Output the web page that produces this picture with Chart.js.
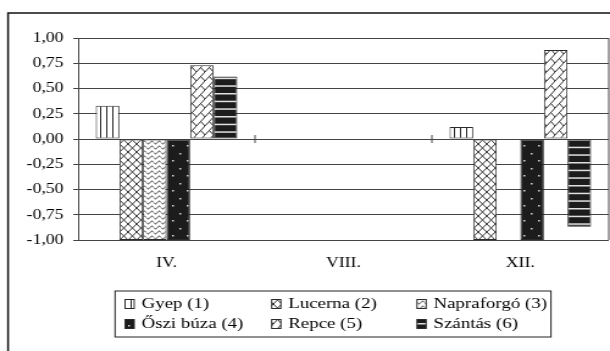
<!DOCTYPE html>
<html>
<head>
<meta charset="utf-8">
<script src="https://cdn.jsdelivr.net/npm/chart.js@4/dist/chart.umd.min.js"></script>
<style>
  html, body { margin: 0; padding: 0; background: #fff; }
</style>
</head>
<body>
<!-- the reference picture is stretched sideways, so the canvas is too -->
<canvas id="c" width="500" height="351" style="display:block;width:610px;height:351px"></canvas>
<script>
const categories = ["IV.", "VIII.", "XII."];
const seriesNames = ["Gyep (1)", "Lucerna (2)", "Napraforgó (3)", "Őszi búza (4)", "Repce (5)", "Szántás (6)"];
const gyep = [0.33, null, 0.12];
const lucerna = [-1.00, null, -1.00];
const napraforgo = [-1.00, null, null];
const osziBuza = [-1.00, null, -1.00];
const repce = [0.73, null, 0.88];
const szantas = [0.62, null, -0.87];
const yMin = -1, yMax = 1, yStep = 0.25;

const SERIF = "'Liberation Serif', 'Times New Roman', serif";
const LINE = "#2a2a2a";
const TEXT = "#000";

function tile(w, h, draw) {
  const c = document.createElement("canvas");
  c.width = w; c.height = h;
  const g = c.getContext("2d");
  draw(g, w, h);
  return g.createPattern(c, "repeat");
}

const patVertical = tile(5, 4, (g, w, h) => {
  g.fillStyle = "#fff"; g.fillRect(0, 0, w, h);
  g.fillStyle = LINE; g.fillRect(2, 0, 1, h);
});
const patCross = tile(7, 8, (g, w, h) => {
  g.fillStyle = "#fff"; g.fillRect(0, 0, w, h);
  g.strokeStyle = "#333"; g.lineWidth = 1;
  g.beginPath(); g.moveTo(0, 0); g.lineTo(w, h); g.moveTo(w, 0); g.lineTo(0, h); g.stroke();
});
const patWave = tile(6, 5, (g, w, h) => {
  g.fillStyle = "#fff"; g.fillRect(0, 0, w, h);
  g.strokeStyle = "#333"; g.lineWidth = 1;
  g.beginPath();
  for (let x = 0; x <= w; x += 0.5) {
    const y = 2.5 + 1.4 * Math.sin(2 * Math.PI * x / w);
    if (x === 0) g.moveTo(x, y); else g.lineTo(x, y);
  }
  g.stroke();
});
const patDots = tile(12, 15, (g, w, h) => {
  g.fillStyle = "#1c1c1c"; g.fillRect(0, 0, w, h);
  g.fillStyle = "#d8d8d8";
  g.fillRect(3, 3, 1.5, 1.5);
  g.fillRect(9, 10, 1.5, 1.5);
});
const patBrick = tile(7, 9, (g, w, h) => {
  g.fillStyle = "#fff"; g.fillRect(0, 0, w, h);
  g.strokeStyle = "#333"; g.lineWidth = 1;
  g.beginPath();
  g.moveTo(0, h); g.lineTo(w, 0);
  g.moveTo(w / 2, h / 2); g.lineTo(w, h);
  g.stroke();
});
const patStripes = tile(4, 23, (g, w, h) => {
  g.fillStyle = "#1c1c1c"; g.fillRect(0, 0, w, h);
  g.fillStyle = "#e0e0e0";
  g.fillRect(0, 1, w, 1.5);
  g.fillRect(0, 8.7, w, 1.5);
  g.fillRect(0, 16.3, w, 1.5);
});

const seriesData = [gyep, lucerna, napraforgo, osziBuza, repce, szantas];
const seriesFill = [patVertical, patCross, patWave, patDots, patBrick, patStripes];

const datasets = seriesNames.map((name, i) => ({
  label: name,
  data: seriesData[i],
  backgroundColor: seriesFill[i],
  borderColor: LINE,
  borderWidth: 1,
  borderSkipped: false,
  barPercentage: 1,
  categoryPercentage: 0.8
}));

// outer frame, right edge of plot, ticks on the zero line and the boxed legend
const extras = {
  id: "extras",
  afterDraw(chart) {
    const ctx = chart.ctx;
    const area = chart.chartArea;
    const xs = chart.scales.x, ys = chart.scales.y;
    ctx.save();

    ctx.strokeStyle = "#111";
    ctx.lineWidth = 1.5;
    ctx.strokeRect(6.6, 13, chart.width + 10, chart.height + 10);

    ctx.strokeStyle = "#444";
    ctx.lineWidth = 1;
    ctx.beginPath();
    ctx.moveTo(area.right, area.top);
    ctx.lineTo(area.right, area.bottom);
    const y0 = ys.getPixelForValue(0);
    for (let i = 0; i < categories.length - 1; i++) {
      const bx = (xs.getPixelForValue(i) + xs.getPixelForValue(i + 1)) / 2;
      ctx.moveTo(bx, y0 - 4);
      ctx.lineTo(bx, y0 + 4);
    }
    ctx.stroke();

    // legend
    ctx.strokeStyle = "#222";
    ctx.lineWidth = 1;
    ctx.strokeRect(94.3, 291, 357.3, 46);
    const iconX = [102.5, 222.7, 341.8];
    const rowY = [304, 324];
    ctx.font = "15.5px " + SERIF;
    ctx.textBaseline = "middle";
    ctx.textAlign = "left";
    chart.data.datasets.forEach((ds, i) => {
      const x = iconX[i % 3], y = rowY[Math.floor(i / 3)];
      ctx.fillStyle = ds.backgroundColor;
      ctx.fillRect(x, y - 4.5, 7.5, 9);
      ctx.strokeStyle = LINE;
      ctx.strokeRect(x, y - 4.5, 7.5, 9);
      ctx.fillStyle = TEXT;
      ctx.fillText(ds.label, x + 13.5, y);
    });
    ctx.restore();
  }
};

new Chart(document.getElementById("c"), {
  type: "bar",
  data: { labels: categories, datasets },
  options: {
    responsive: false,
    devicePixelRatio: 1,
    animation: false,
    layout: { padding: { left: 0, right: 1, top: 38, bottom: 0 } },
    plugins: { legend: { display: false }, tooltip: { enabled: false } },
    scales: {
      x: {
        offset: true,
        grid: { display: false, drawTicks: false },
        border: { display: false },
        ticks: { font: { family: SERIF, size: 14.5 }, color: TEXT, padding: 14 },
        afterFit: s => { s.height = 111; }
      },
      y: {
        min: yMin,
        max: yMax,
        ticks: {
          stepSize: yStep,
          font: { family: SERIF, size: 14.5 },
          color: TEXT,
          padding: 8,
          callback: v => v.toFixed(2).replace(".", ",")
        },
        grid: { color: "#444", lineWidth: 1, tickLength: 4 },
        border: { color: "#444" },
        afterFit: s => { s.width = 64; }
      }
    }
  },
  plugins: [extras]
});
</script>
</body>
</html>
